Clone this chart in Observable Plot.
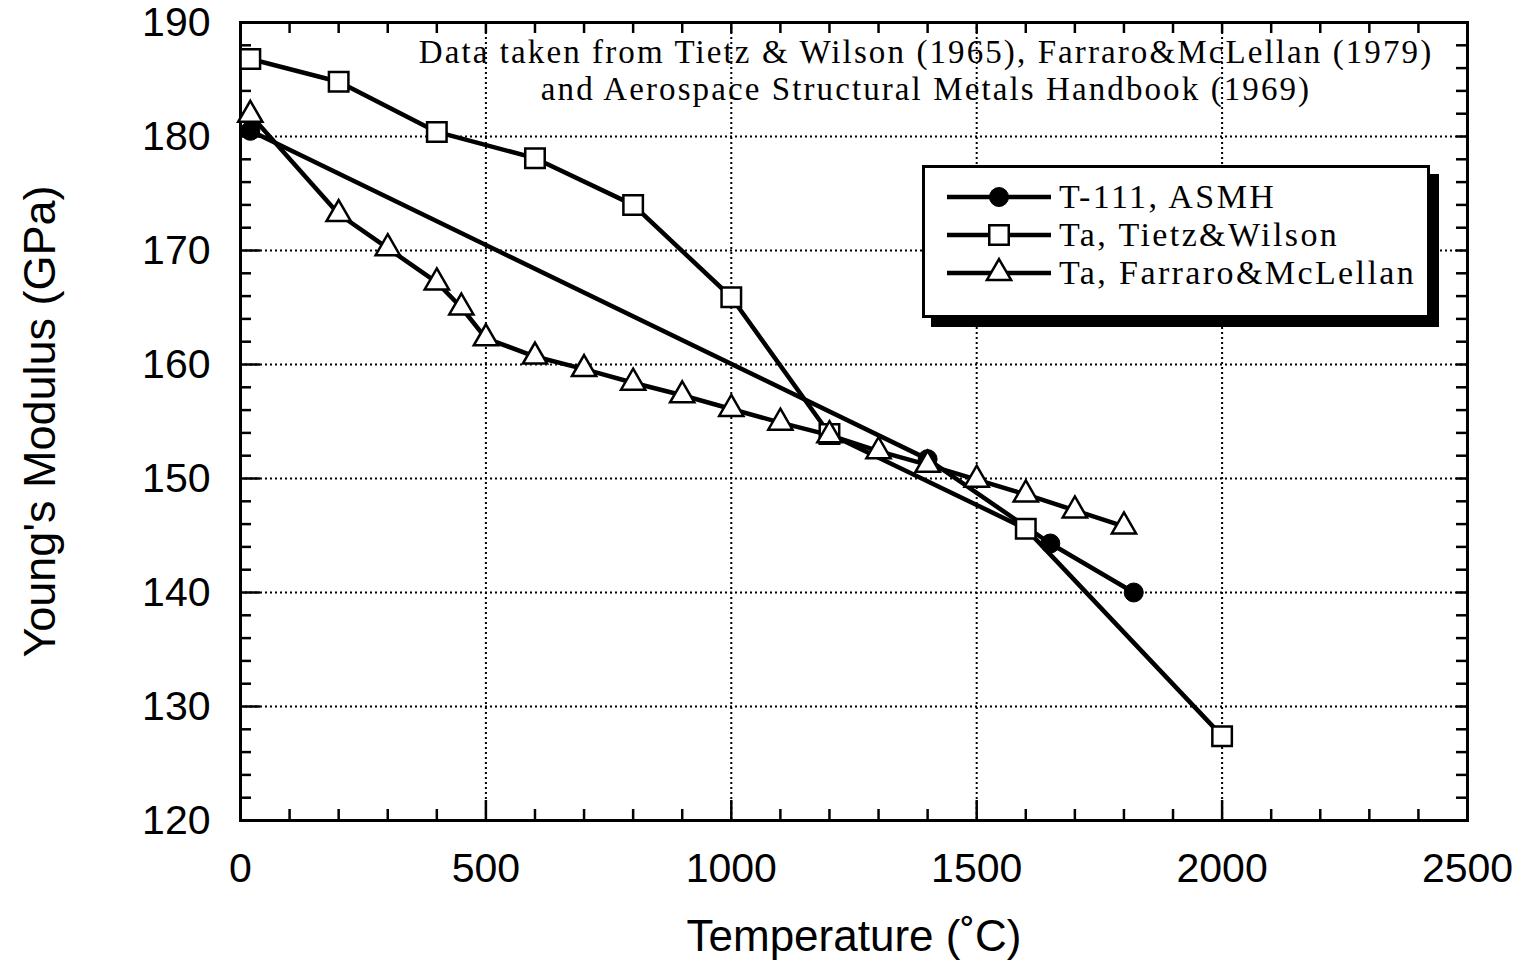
<!DOCTYPE html>
<html>
<head>
<meta charset="utf-8">
<script src="https://cdn.jsdelivr.net/npm/d3@7"></script>
<script src="https://cdn.jsdelivr.net/npm/@observablehq/plot@0.6"></script>
<style>
  html, body { margin: 0; padding: 0; background: #fff; }
  #wrap { position: relative; width: 1530px; height: 965px; }
  #legend {
    position: absolute; left: 922px; top: 165px; width: 502px; height: 147px;
    border: 3px solid #000; background: #fff; box-shadow: 9px 9px 0 #000;
    font-family: "Liberation Serif", "Times New Roman", serif; font-size: 34px; letter-spacing: 2.4px; color: #000;
  }
  .row { position: absolute; left: 0; height: 38px; display: flex; align-items: center; }
  .row svg { display: block; margin-left: 20px; }
  .row span { margin-left: 6px; line-height: 38px; white-space: nowrap; }
  .note text { letter-spacing: 2.1px; }
</style>
</head>
<body>
<div id="wrap"></div>
<script>
// ---- data ----
const t111Temp = [20, 1400, 1650, 1820];
const t111E    = [180.5, 151.7, 144.3, 140.0];

const tietzTemp = [20, 200, 400, 600, 800, 1000, 1200, 1600, 2000];
const tietzE    = [186.8, 184.8, 180.4, 178.1, 174.0, 165.9, 153.9, 145.6, 127.4];

const farraroTemp = [20, 200, 300, 400, 450, 500, 600, 700, 800, 900, 1000, 1100, 1200, 1300, 1400, 1500, 1600, 1700, 1800];
const farraroE    = [181.9, 173.2, 170.2, 167.2, 165.0, 162.3, 160.7, 159.6, 158.4, 157.3, 156.1, 154.9, 153.8, 152.4, 151.2, 149.9, 148.6, 147.2, 145.8];

const seriesNames = ["T-111, ASMH", "Ta, Tietz&Wilson", "Ta, Farraro&McLellan"];
const seriesSymbols = ["circle", "square", "triangle"];

const xMajorTicks = [0, 500, 1000, 1500, 2000, 2500];
const yMajorTicks = [120, 130, 140, 150, 160, 170, 180, 190];
const xMinorTicks = d3.range(0, 2501, 100).filter(d => d % 500 !== 0);
const yMinorTicks = d3.range(120, 191, 2).filter(d => d % 10 !== 0);

const xLabel = "Temperature (˚C)";
const yLabel = "Young's Modulus (GPa)";
const noteText = "Data taken from Tietz & Wilson (1965), Farraro&McLellan (1979)\nand Aerospace Structural Metals Handbook (1969)";

// ---- build table ----
const toRows = (xs, ys, name) => xs.map((x, i) => ({series: name, T: x, E: ys[i]}));
const t111 = toRows(t111Temp, t111E, seriesNames[0]);
const tietz = toRows(tietzTemp, tietzE, seriesNames[1]);
const farraro = toRows(farraroTemp, farraroE, seriesNames[2]);

const W = 1530, H = 965;
const mL = 240, mR = 63, mT = 22, mB = 145;
const innerH = H - mT - mB;
const innerW = W - mL - mR;

const sans = "'Liberation Sans', Arial, Helvetica, sans-serif";
const serif = "'Liberation Serif', 'Times New Roman', serif";

const lineStyle = {x: "T", y: "E", stroke: "black", strokeWidth: 4.5, strokeLinejoin: "round"};

const chart = Plot.plot({
  width: W, height: H,
  marginLeft: mL, marginRight: mR, marginTop: mT, marginBottom: mB,
  style: {fontFamily: sans, background: "white", color: "black", overflow: "visible"},
  x: {domain: [0, 2500]},
  y: {domain: [120, 190]},
  marks: [
    // dotted grid
    Plot.gridX(xMajorTicks.filter(d => d > 0 && d < 2500), {stroke: "black", strokeOpacity: 1, strokeWidth: 2, strokeDasharray: "2,3"}),
    Plot.gridY(yMajorTicks.filter(d => d > 120 && d < 190), {stroke: "black", strokeOpacity: 1, strokeWidth: 2, strokeDasharray: "2,3"}),
    // inward ticks: bottom
    Plot.tickX(xMajorTicks, {x: d => d, stroke: "black", strokeWidth: 2.5, insetTop: innerH - 20}),
    Plot.tickX(xMinorTicks, {x: d => d, stroke: "black", strokeWidth: 2.5, insetTop: innerH - 11}),
    // top
    Plot.tickX(xMajorTicks.concat(xMinorTicks), {x: d => d, stroke: "black", strokeWidth: 2.5, insetBottom: innerH - 11}),
    // left
    Plot.tickY(yMajorTicks, {y: d => d, stroke: "black", strokeWidth: 2.5, insetRight: innerW - 20}),
    Plot.tickY(yMinorTicks, {y: d => d, stroke: "black", strokeWidth: 2.5, insetRight: innerW - 11}),
    // right
    Plot.tickY(yMajorTicks.concat(yMinorTicks), {y: d => d, stroke: "black", strokeWidth: 2.5, insetLeft: innerW - 11}),
    Plot.frame({stroke: "black", strokeWidth: 3}),
    // axes labels
    Plot.axisX({ticks: xMajorTicks, tickSize: 0, tickPadding: 32, fontSize: 41, label: null, tickFormat: d => String(d)}),
    Plot.axisY({ticks: yMajorTicks, tickSize: 0, tickPadding: 30, fontSize: 41, label: null, tickFormat: d => String(d)}),
    Plot.text([xLabel], {text: d => d, frameAnchor: "bottom", dy: 130, lineAnchor: "bottom", fontSize: 44, fontFamily: sans}),
    Plot.text([yLabel], {text: d => d, frameAnchor: "left", textAnchor: "middle", dx: -200, rotate: -90, fontSize: 45, fontFamily: sans}),
    // note
    Plot.text([noteText], {text: d => d, frameAnchor: "top", dx: 72, dy: 14, lineAnchor: "top", fontSize: 33, lineHeight: 1.12, fontFamily: serif, className: "note"}),
    // lines
    Plot.line(t111, lineStyle),
    Plot.line(tietz, lineStyle),
    Plot.line(farraro, lineStyle),
    // markers
    Plot.dot(t111, {x: "T", y: "E", symbol: seriesSymbols[0], r: 9.5, fill: "black", stroke: "black", strokeWidth: 1}),
    Plot.dot(tietz, {x: "T", y: "E", symbol: seriesSymbols[1], r: 11, fill: "white", stroke: "black", strokeWidth: 2.5}),
    Plot.dot(farraro, {x: "T", y: "E", symbol: seriesSymbols[2], r: 9, fill: "white", stroke: "black", strokeWidth: 2.5})
  ]
});

const wrap = document.getElementById("wrap");
wrap.appendChild(chart);

// legend (HTML overlay)
const legend = document.createElement("div");
legend.id = "legend";
const symbolPath = {
  circle: d3.symbol(d3.symbolCircle, Math.PI * 9.5 * 9.5)(),
  square: d3.symbol(d3.symbolSquare, Math.PI * 11 * 11)(),
  triangle: d3.symbol(d3.symbolTriangle, Math.PI * 9 * 9)()
};
const rowTops = [10, 48, 86];
seriesNames.forEach((name, i) => {
  const row = document.createElement("div");
  row.className = "row";
  row.style.top = rowTops[i] + "px";
  const sym = seriesSymbols[i];
  const filled = sym === "circle";
  row.innerHTML = `<svg width="108" height="38" viewBox="0 0 108 38">
      <line x1="2" y1="19" x2="106" y2="19" stroke="black" stroke-width="4.5"/>
      <path d="${symbolPath[sym]}" transform="translate(54,19)" fill="${filled ? "black" : "white"}" stroke="black" stroke-width="${filled ? 1 : 2.5}"/>
    </svg><span></span>`;
  row.querySelector("span").textContent = name;
  legend.appendChild(row);
});
wrap.appendChild(legend);
</script>
</body>
</html>
